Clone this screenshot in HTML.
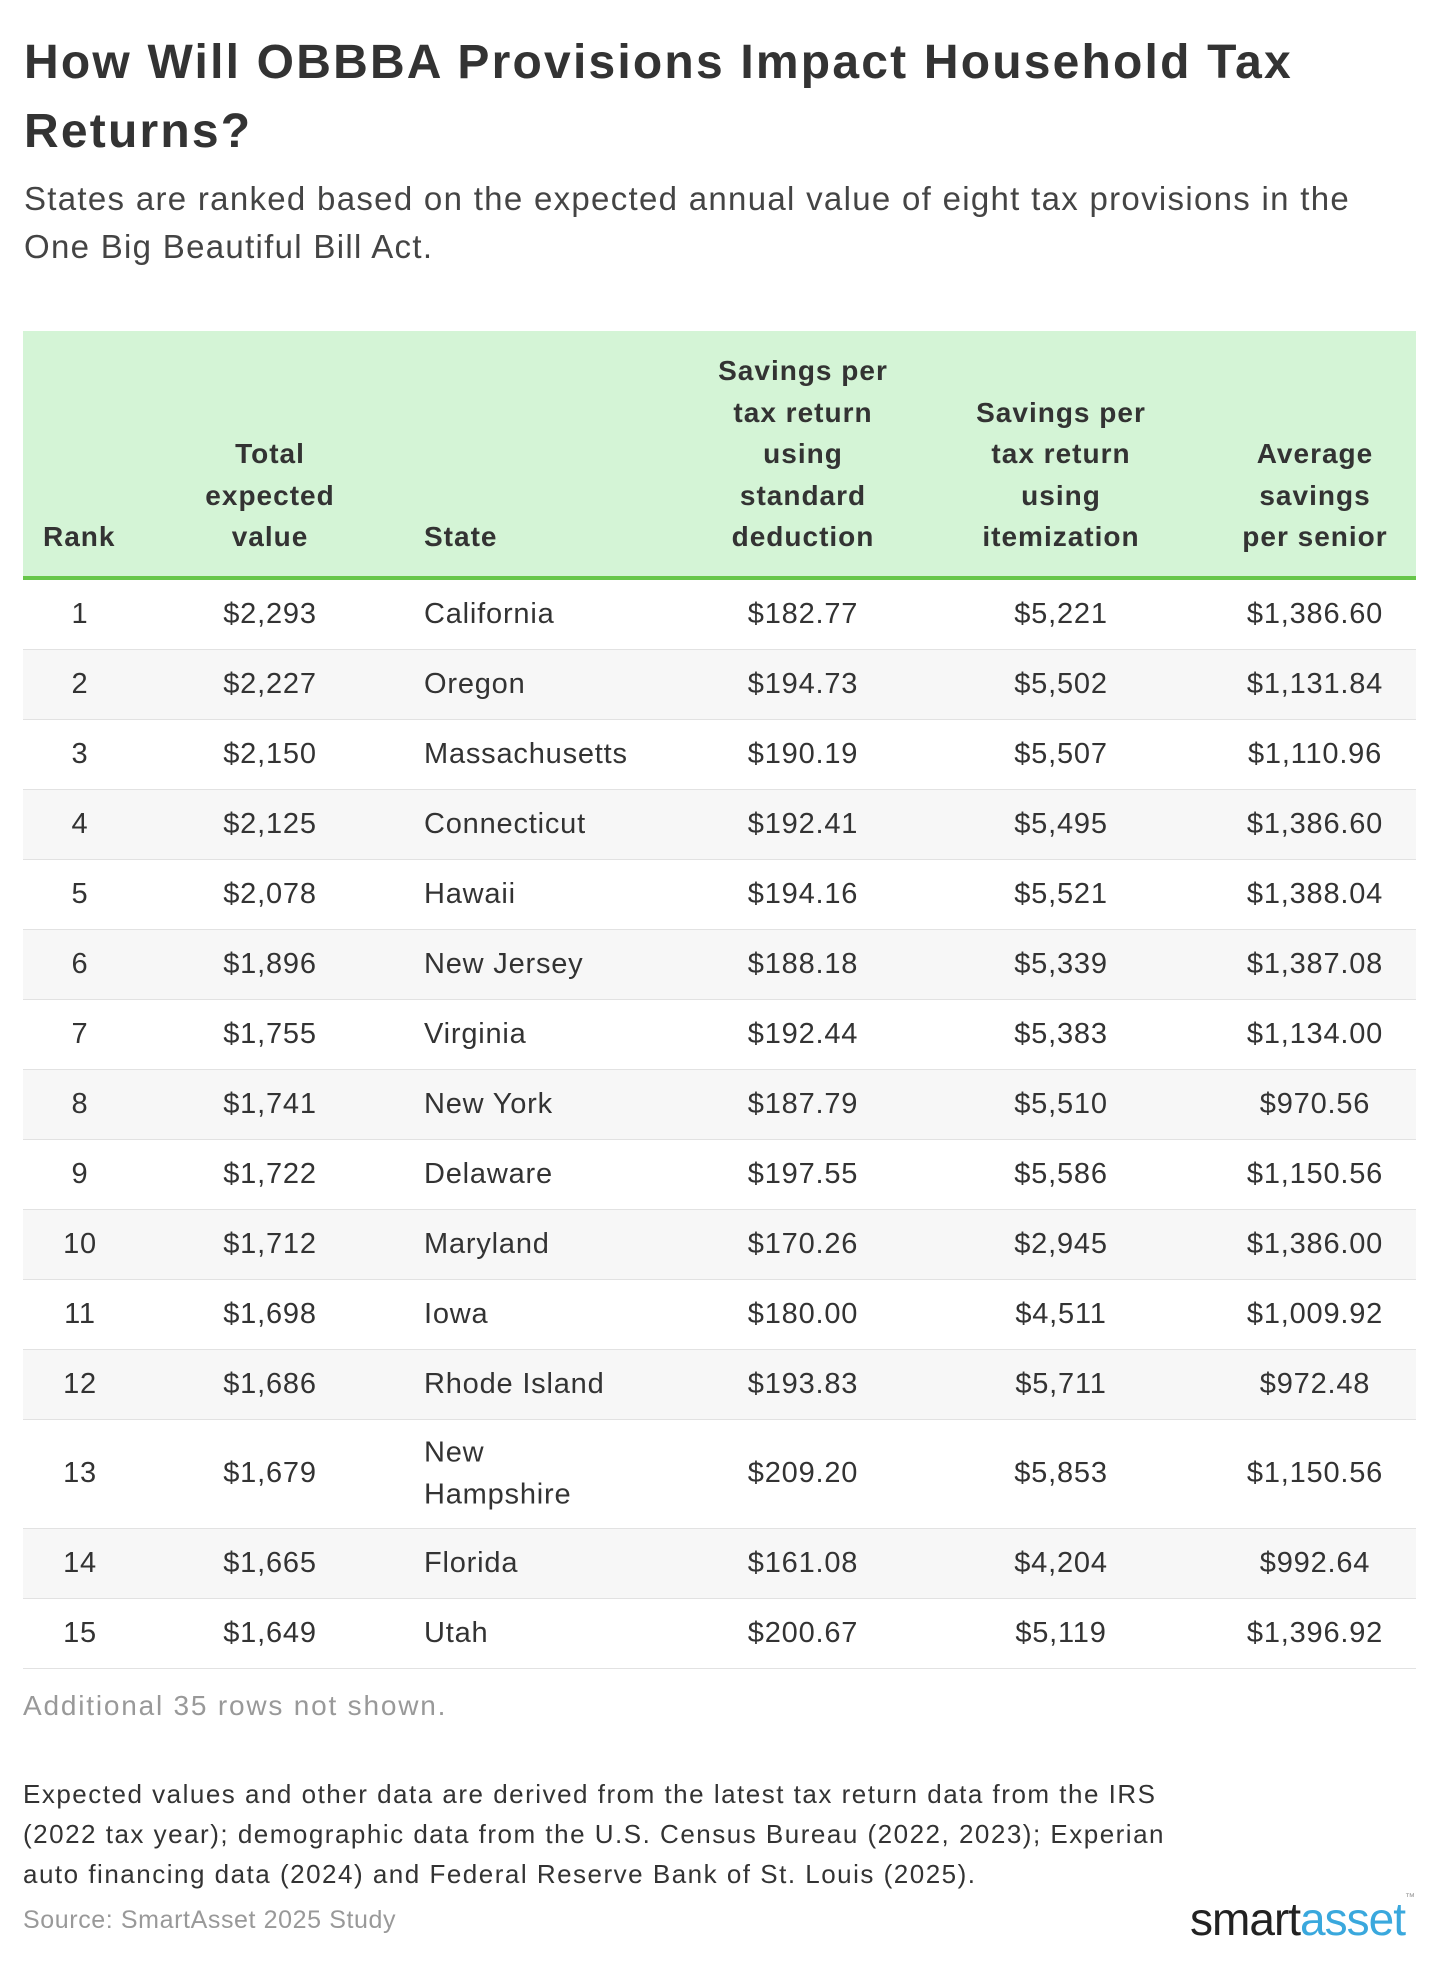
<!DOCTYPE html>
<html><head><meta charset="utf-8"><style>
*{margin:0;padding:0;box-sizing:border-box}
body{width:1440px;height:1963px;background:#fff;font-family:"Liberation Sans","DejaVu Sans",sans-serif;color:#333;position:relative;overflow:hidden}
.abs{position:absolute;white-space:nowrap}
h1{position:absolute;left:24px;top:28px;font-size:48px;line-height:69px;font-weight:bold;color:#333;width:1420px;letter-spacing:2.2px}
.sub{position:absolute;left:24px;top:175px;font-size:33px;line-height:48px;color:#444;width:1420px;letter-spacing:1.3px;white-space:nowrap}
.hdr{position:absolute;left:23px;top:331px;width:1393px;height:245px;background:#d4f4d6}
.gl{position:absolute;left:23px;top:576px;width:1393px;height:4px;background:#67c64a}
.hc{position:absolute;bottom:18px;font-size:28px;font-weight:bold;line-height:41.6px;text-align:center;color:#333;letter-spacing:1px}
.row{position:absolute;left:23px;width:1393px;border-bottom:1px solid #e2e2e2;font-size:29px;color:#333;letter-spacing:0.8px}
.row div{position:absolute;top:50%;transform:translateY(-50%);line-height:41.6px}
.c{text-align:center;width:240px;margin-left:-120px}
.g{background:#f7f7f7}
.note{font-size:26px;line-height:40px;color:#333;letter-spacing:1.5px}
</style></head><body>
<h1>How Will OBBBA Provisions Impact Household Tax Returns?</h1>
<div class="sub">States are ranked based on the expected annual value of eight tax provisions in the<br>One Big Beautiful Bill Act.</div>
<div class="hdr">
<div class="hc" style="left:20px;text-align:left">Rank</div>
<div class="hc" style="left:137px;width:220px">Total<br>expected<br>value</div>
<div class="hc" style="left:401px;text-align:left">State</div>
<div class="hc" style="left:670px;width:220px">Savings per<br>tax return<br>using<br>standard<br>deduction</div>
<div class="hc" style="left:928px;width:220px">Savings per<br>tax return<br>using<br>itemization</div>
<div class="hc" style="left:1182px;width:220px">Average<br>savings<br>per senior</div>
</div>
<div class="gl"></div>
<div id="rows"></div>
<script>
var d=[[1,"$2,293","California","$182.77","$5,221","$1,386.60"],[2,"$2,227","Oregon","$194.73","$5,502","$1,131.84"],[3,"$2,150","Massachusetts","$190.19","$5,507","$1,110.96"],[4,"$2,125","Connecticut","$192.41","$5,495","$1,386.60"],[5,"$2,078","Hawaii","$194.16","$5,521","$1,388.04"],[6,"$1,896","New Jersey","$188.18","$5,339","$1,387.08"],[7,"$1,755","Virginia","$192.44","$5,383","$1,134.00"],[8,"$1,741","New York","$187.79","$5,510","$970.56"],[9,"$1,722","Delaware","$197.55","$5,586","$1,150.56"],[10,"$1,712","Maryland","$170.26","$2,945","$1,386.00"],[11,"$1,698","Iowa","$180.00","$4,511","$1,009.92"],[12,"$1,686","Rhode Island","$193.83","$5,711","$972.48"],[13,"$1,679","New<br>Hampshire","$209.20","$5,853","$1,150.56"],[14,"$1,665","Florida","$161.08","$4,204","$992.64"],[15,"$1,649","Utah","$200.67","$5,119","$1,396.92"]];
var y=580,h="";
d.forEach(function(r,i){var ht=r[0]==13?109:70;
h+='<div class="row'+(i%2?' g':'')+'" style="top:'+y+'px;height:'+ht+'px"><div class="c" style="left:57px">'+r[0]+'</div><div class="c" style="left:247px">'+r[1]+'</div><div style="left:401px">'+r[2]+'</div><div class="c" style="left:780px">'+r[3]+'</div><div class="c" style="left:1038px">'+r[4]+'</div><div class="c" style="left:1292px">'+r[5]+'</div></div>';y+=ht;});
document.getElementById('rows').innerHTML=h;
</script>
<div class="abs" style="left:23px;top:1690px;font-size:28px;color:#999;letter-spacing:1.8px">Additional 35 rows not shown.</div>
<div class="abs note" style="left:23px;top:1774px">Expected values and other data are derived from the latest tax return data from the IRS<br>(2022 tax year); demographic data from the U.S. Census Bureau (2022, 2023); Experian<br>auto financing data (2024) and Federal Reserve Bank of St. Louis (2025).</div>
<div class="abs" style="left:23px;top:1906px;font-size:25px;color:#999;letter-spacing:0.6px">Source: SmartAsset 2025 Study</div>
<div class="abs" style="right:26px;top:1892px;font-size:46px;letter-spacing:-1px;color:#222">smart<span style="color:#3aa8dd">asset</span><sup style="font-size:10px;color:#999;vertical-align:top">™</sup></div>
</body></html>
